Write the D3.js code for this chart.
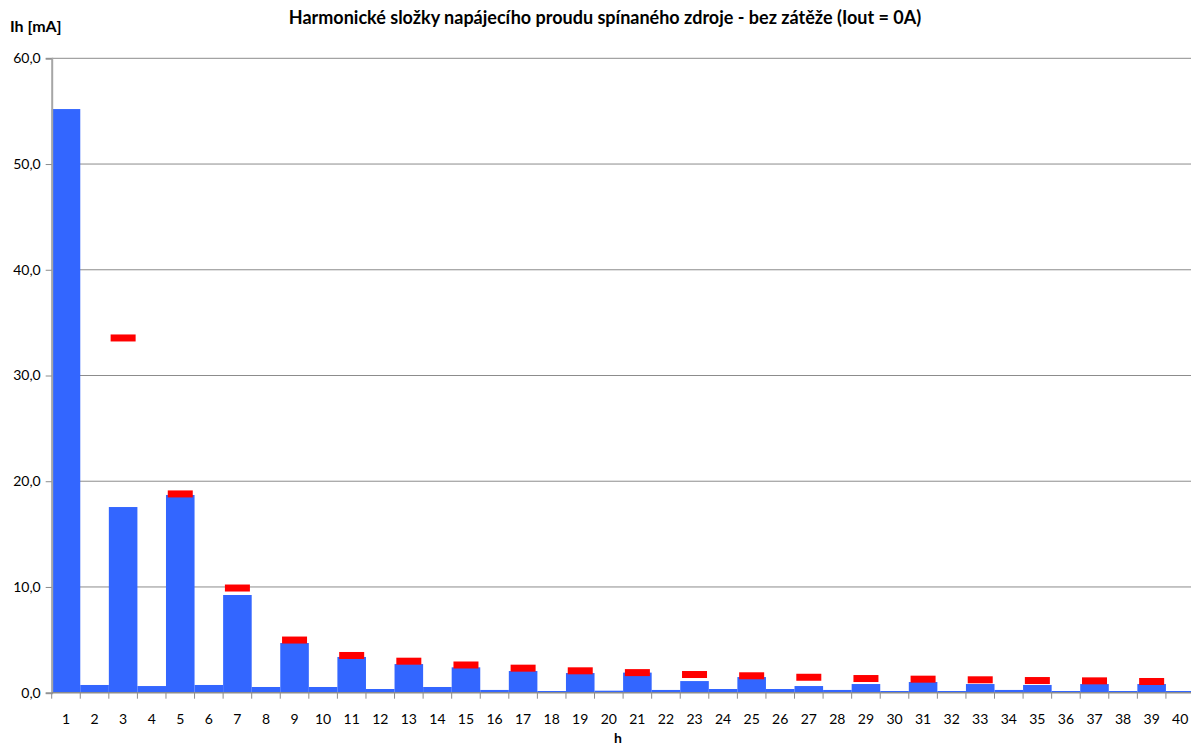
<!DOCTYPE html>
<html>
<head>
<meta charset="utf-8">
<script src="https://cdn.jsdelivr.net/npm/d3@7"></script>
<style>
  html, body { margin: 0; padding: 0; background: #fff; }
  svg { display: block; font-family: Lato, "Open Sans", sans-serif; }
</style>
</head>
<body>
<svg id="chart" width="1191" height="747"></svg>
<script>
// Harmonic orders 1..40
const harmonics = d3.range(1, 41);

// Measured harmonic current amplitudes [mA]
const measured = [
  55.2, 0.73, 17.56, 0.63, 18.7, 0.73, 9.24, 0.54, 4.7, 0.54,
  3.38, 0.35, 2.71, 0.54, 2.4, 0.26, 2.05, 0.16, 1.86, 0.19,
  1.9, 0.26, 1.1, 0.35, 1.48, 0.35, 0.63, 0.26, 0.82, 0.16,
  1.01, 0.16, 0.82, 0.26, 0.73, 0.16, 0.82, 0.16, 0.82, 0.16
];

// Limit values for odd harmonics [mA]
const limitOrders = [3, 5, 7, 9, 11, 13, 15, 17, 19, 21, 23, 25, 27, 29, 31, 33, 35, 37, 39];
const limitValues = [33.55, 18.8, 9.9, 4.98, 3.52, 2.98, 2.62, 2.32, 2.07, 1.9,
                     1.72, 1.6, 1.46, 1.34, 1.28, 1.22, 1.15, 1.12, 1.06];

const yTicks = [0, 10, 20, 30, 40, 50, 60];

const titleText = "Harmonické složky napájecího proudu spínaného zdroje - bez zátěže (Iout = 0A)";
const yLabel = "Ih [mA]";
const xLabel = "h";

const svg = d3.select("#chart");
const plotLeft = 51.7, step = 28.57, plotTop = 58.3, plotBottom = 692.7;

const x = d3.scaleBand()
  .domain(harmonics)
  .range([plotLeft, plotLeft + step * harmonics.length])
  .paddingInner(0).paddingOuter(0);

const y = d3.scaleLinear().domain([0, 60]).range([plotBottom, plotTop]);

// Horizontal gridlines
svg.append("g")
  .selectAll("line")
  .data(yTicks.filter(d => d > 0))
  .join("line")
  .attr("x1", plotLeft).attr("x2", 1191)
  .attr("y1", d => y(d)).attr("y2", d => y(d))
  .attr("stroke", "#8c8c8c").attr("stroke-width", 1);

// Bars
svg.append("g")
  .selectAll("rect")
  .data(harmonics)
  .join("rect")
  .attr("x", d => x(d))
  .attr("width", x.bandwidth())
  .attr("y", (d, i) => y(measured[i]))
  .attr("height", (d, i) => y(0) - y(measured[i]))
  .attr("fill", "#3366ff");

// Limit markers
const mW = 25, mH = 7;
svg.append("g")
  .selectAll("rect")
  .data(limitOrders)
  .join("rect")
  .attr("x", d => x(d) + x.bandwidth() / 2 - mW / 2)
  .attr("width", mW)
  .attr("y", (d, i) => y(limitValues[i]) - mH / 2)
  .attr("height", mH)
  .attr("fill", "#ff0000");

// Y axis
const yAxis = d3.axisLeft(y)
  .tickValues(yTicks)
  .tickSize(6)
  .tickPadding(5)
  .tickFormat(d => d3.format(".1f")(d).replace(".", ","));
const gy = svg.append("g").attr("transform", `translate(${plotLeft},0)`).call(yAxis);
gy.select(".domain").attr("stroke", "#a6a6a6").attr("stroke-width", 2);
gy.selectAll(".tick line").attr("stroke", "#8c8c8c");
gy.selectAll(".tick text").attr("font-size", 14).attr("fill", "#000")
  .attr("font-family", "Lato, 'Open Sans', sans-serif");

// X axis: ticks at category boundaries, labels centred in categories
const gx = svg.append("g").attr("transform", `translate(0,${plotBottom})`);
gx.append("line")
  .attr("x1", plotLeft).attr("x2", 1191)
  .attr("y1", 0).attr("y2", 0)
  .attr("stroke", "#8c8c8c").attr("stroke-width", 1.5);
gx.selectAll("line.tick")
  .data(harmonics)
  .join("line")
  .attr("class", "tick")
  .attr("x1", d => x(d)).attr("x2", d => x(d))
  .attr("y1", 0).attr("y2", 6)
  .attr("stroke", "#8c8c8c");
gx.selectAll("text")
  .data(harmonics)
  .join("text")
  .attr("x", d => x(d) + x.bandwidth() / 2)
  .attr("y", 31)
  .attr("text-anchor", "middle")
  .attr("font-size", 14)
  .text(d => d);

// Titles
svg.append("text")
  .attr("x", 605).attr("y", 24)
  .attr("text-anchor", "middle")
  .attr("font-size", 18).attr("font-weight", "bold")
  .text(titleText);

svg.append("text")
  .attr("x", 10).attr("y", 32)
  .attr("font-size", 16).attr("font-weight", "bold")
  .text(yLabel);

svg.append("text")
  .attr("x", 618).attr("y", 743)
  .attr("text-anchor", "middle")
  .attr("font-size", 14).attr("font-weight", "bold")
  .text(xLabel);
</script>
</body>
</html>
